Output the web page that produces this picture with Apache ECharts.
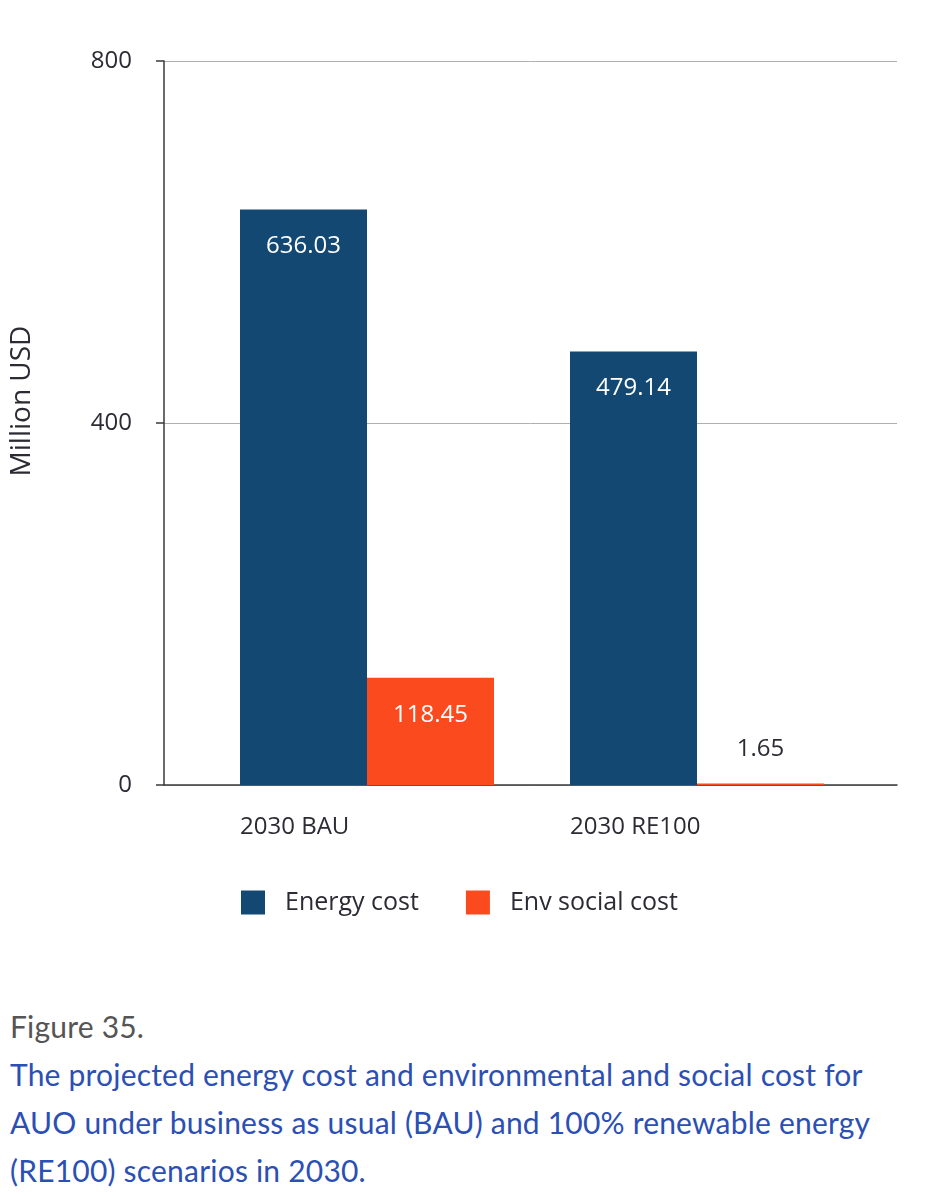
<!DOCTYPE html>
<html>
<head>
<meta charset="utf-8">
<script src="https://cdn.jsdelivr.net/npm/echarts@6/dist/echarts.min.js"></script>
<style>
  html, body { margin: 0; padding: 0; background: #fff; width: 926px; height: 1196px; overflow: hidden; }
  #chart { position: absolute; left: 0; top: 0; width: 926px; height: 990px; }
  #cap { position: absolute; left: 10px; top: 1002px; font-family: Lato, "Open Sans", sans-serif; font-size: 30px; line-height: 48px; letter-spacing: 0.2px; white-space: nowrap; }
  #cap .fig { color: #555; }
  #cap .txt { color: #2b4fb3; }
</style>
</head>
<body>
<div id="chart"></div>
<div id="cap">
  <div class="fig">Figure 35.</div>
  <div class="txt">The projected energy cost and environmental and social cost for<br>AUO under business as usual (BAU) and 100% renewable energy<br>(RE100) scenarios in 2030.</div>
</div>
<script>
const categories = ['2030 BAU', '2030 RE100'];
const energyCost = [636.03, 479.14];
const envSocialCost = [118.45, 1.65];
const seriesNames = ['Energy cost', 'Env social cost'];
const yTicks = { min: 0, max: 800, interval: 400 };
const yAxisName = 'Million USD';

const FONT = '"Open Sans", "Noto Sans", sans-serif';
const chart = echarts.init(document.getElementById('chart'), null, { renderer: 'canvas' });

const insideLabel = {
  show: true, position: 'insideTop', distance: 25,
  color: '#ffffff', fontFamily: FONT, fontSize: 24,
  formatter: p => p.value.toFixed(2)
};

const envData = envSocialCost.map(v => v < 20
  ? { value: v, label: { position: 'top', distance: 22, color: '#2b2b33' } }
  : { value: v });

chart.setOption({
  animation: false,
  backgroundColor: '#ffffff',
  textStyle: { fontFamily: FONT },
  grid: [
    { left: 163, right: 29, top: 61, bottom: 205 },
    { left: 202, right: 64, top: 61, bottom: 205 }
  ],
  legend: {
    data: seriesNames,
    left: 241, top: 890, padding: 0,
    itemWidth: 24, itemHeight: 24, itemGap: 47,
    icon: 'rect',
    textStyle: { fontFamily: FONT, fontSize: 25, color: '#2b2b33', padding: [0, 0, 0, 15] }
  },
  xAxis: [
    {
      gridIndex: 0, type: 'category', data: categories,
      axisLine: { show: true, lineStyle: { color: '#3a3a3a', width: 1.5 } },
      axisTick: { show: false }, axisLabel: { show: false }, splitLine: { show: false }
    },
    {
      gridIndex: 1, type: 'category', data: categories,
      axisLine: { show: false }, axisTick: { show: false },
      axisLabel: {
        margin: 30, fontFamily: FONT, fontSize: 24, color: '#2b2b33',
        formatter: v => '{a|' + v + '}',
        rich: { a: { width: 254, align: 'left', fontFamily: FONT, fontSize: 24, color: '#2b2b33' } }
      }
    }
  ],
  yAxis: [
    {
      gridIndex: 0, type: 'value', min: yTicks.min, max: yTicks.max, interval: yTicks.interval,
      name: yAxisName, nameLocation: 'middle', nameRotate: 90, nameGap: 128,
      nameTextStyle: { fontFamily: FONT, fontSize: 28, color: '#2b2b33', padding: [0, 0, 0, 44] },
      axisLine: { show: true, lineStyle: { color: '#3a3a3a', width: 1.5 } },
      axisTick: { show: true, length: 8, lineStyle: { color: '#3a3a3a', width: 1.5 } },
      axisLabel: { margin: 32, fontFamily: FONT, fontSize: 24, color: '#2b2b33' },
      splitLine: { show: true, lineStyle: { color: '#b0b0b0', width: 1 } }
    },
    {
      gridIndex: 1, type: 'value', min: yTicks.min, max: yTicks.max, interval: yTicks.interval,
      show: false, splitLine: { show: false }
    }
  ],
  series: [
    {
      name: seriesNames[0], type: 'bar', xAxisIndex: 1, yAxisIndex: 1,
      data: energyCost, barWidth: 127, barGap: '0%',
      itemStyle: { color: '#134872' }, label: insideLabel
    },
    {
      name: seriesNames[1], type: 'bar', xAxisIndex: 1, yAxisIndex: 1,
      data: envData, barWidth: 127, barGap: '0%',
      itemStyle: { color: '#fb4a1e' }, label: insideLabel
    }
  ]
});
</script>
</body>
</html>
